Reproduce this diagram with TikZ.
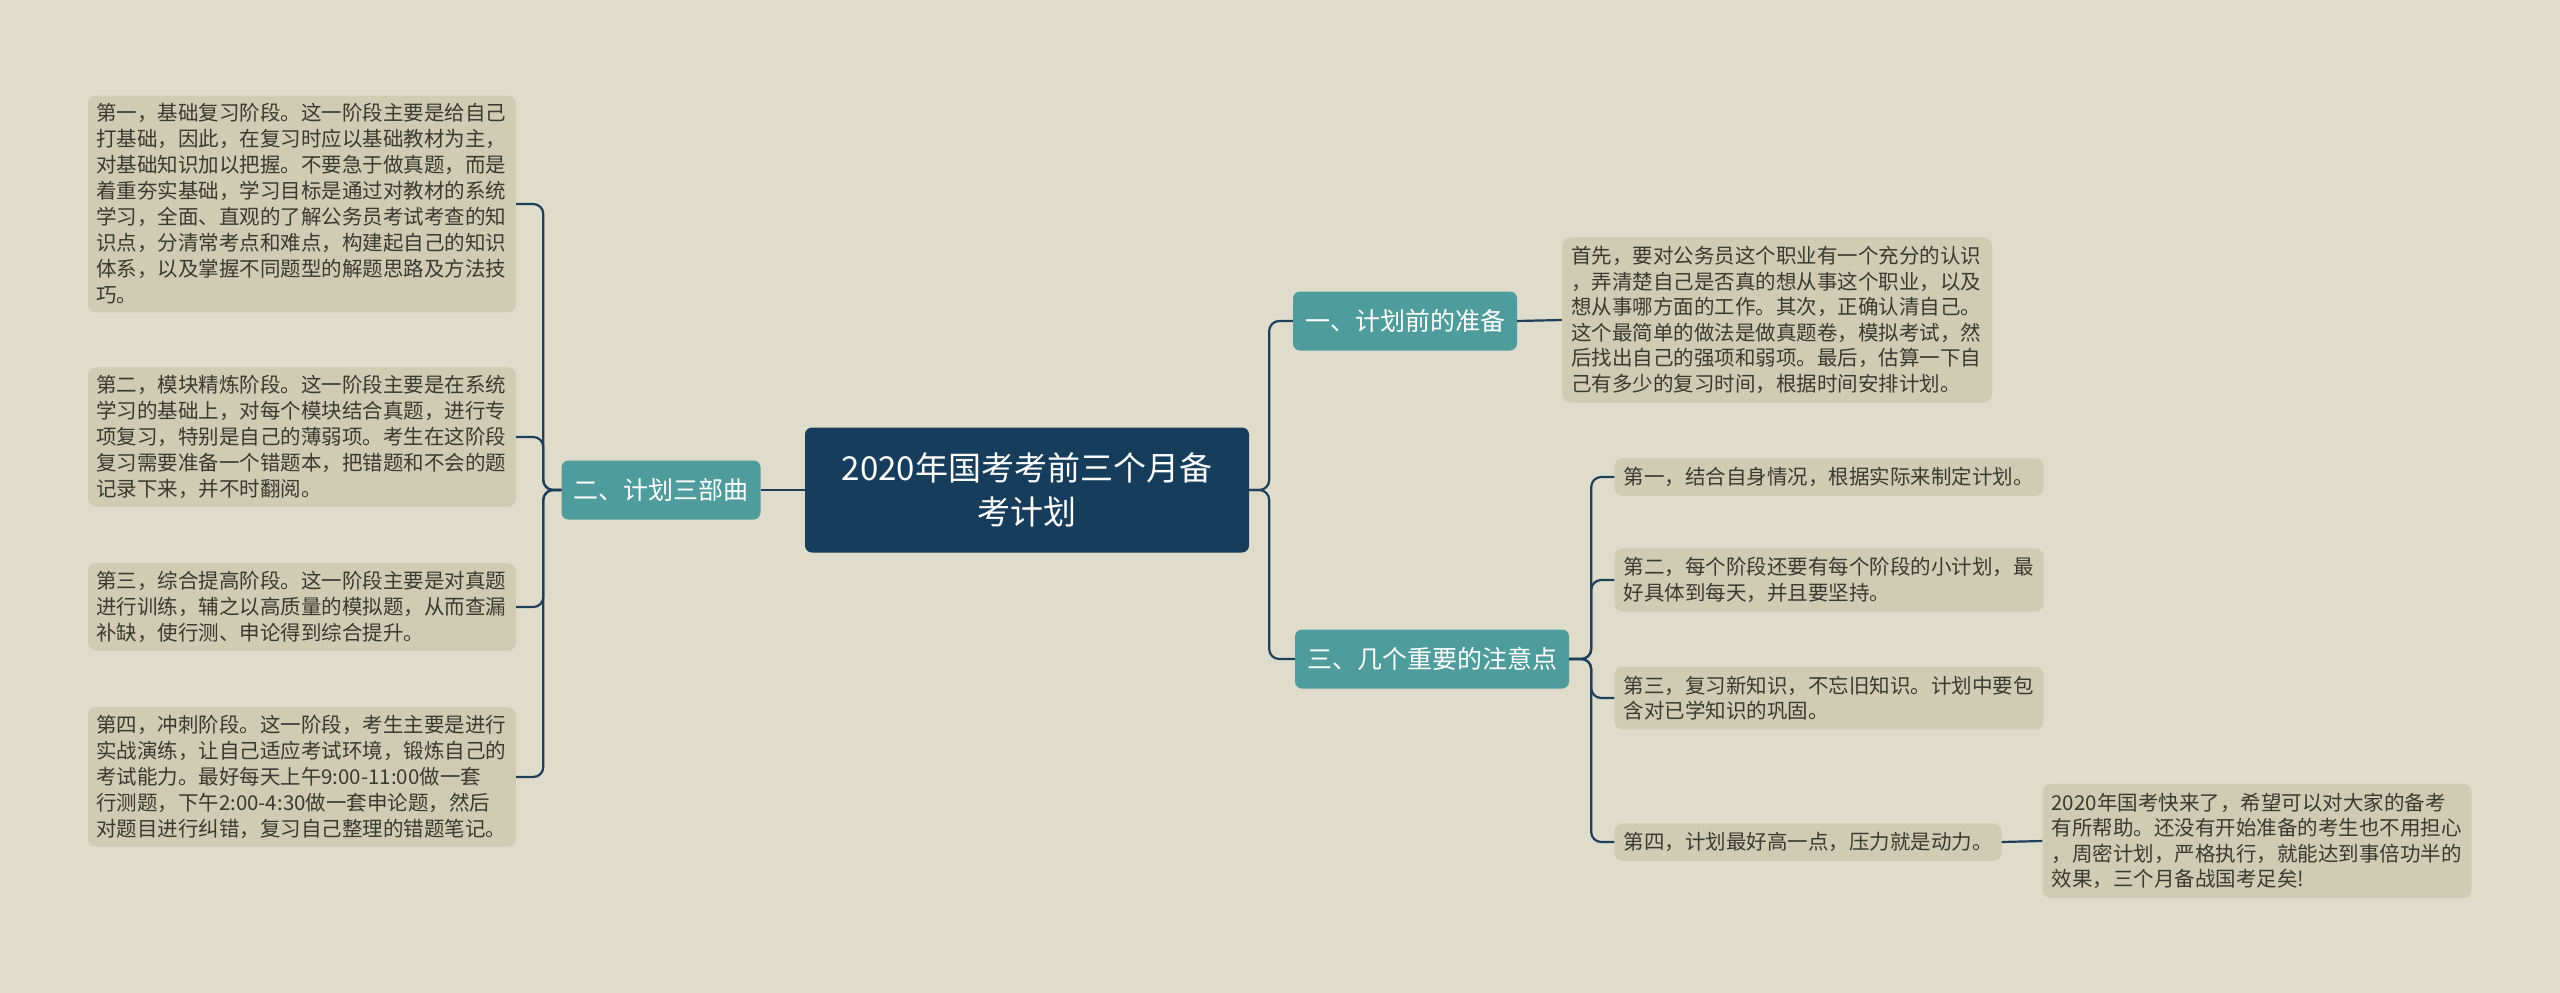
\documentclass[tikz,border=0pt]{standalone}
\usepackage{fontspec}
\setmainfont{Noto Sans CJK SC}
\definecolor{bg}{HTML}{DFDCCB}
\definecolor{leaf}{HTML}{CFCCB3}
\definecolor{txt}{HTML}{3A3A30}
\definecolor{navy}{HTML}{163D5C}
\definecolor{teal}{HTML}{4E9C9C}
\definecolor{conn}{HTML}{1E3F5A}
\tikzset{
  leafL/.style={fill=leaf,rounded corners=8pt,text=txt,align=left,text width=412pt,inner xsep=8pt,inner ysep=8pt,font=\fontsize{20.5pt}{26pt}\selectfont},
  leafR/.style={fill=leaf,rounded corners=8pt,text=txt,align=left,inner xsep=9pt,inner ysep=9pt,font=\fontsize{20.5pt}{25.5pt}\selectfont},
  branch/.style={fill=teal,rounded corners=7pt,text=white,font=\fontsize{25pt}{30pt}\selectfont,minimum height=59pt,inner xsep=12pt},
  link/.style={draw=conn,line width=2.2pt,rounded corners=10pt}
}
\begin{document}
\begin{tikzpicture}[x=1pt,y=-1pt]
\fill[bg] (0,0) rectangle (2560,993);
\useasboundingbox (0,0) rectangle (2560,993);
\node[fill=navy,rounded corners=7pt,text=white,align=center,minimum width=444pt,minimum height=125pt,font=\fontsize{33pt}{44pt}\selectfont] (c) at (1027,490) {2020年国考考前三个月备\\考计划};
\node[branch] (b1) at (1405,321) {一、计划前的准备};
\node[branch] (b3) at (1432,659) {三、几个重要的注意点};
\node[branch] (b2) at (661,490) {二、计划三部曲};
\node[leafL] (l1) at (302,204) {第一，基础复习阶段。这一阶段主要是给自己\\打基础，因此，在复习时应以基础教材为主，\\对基础知识加以把握。不要急于做真题，而是\\着重夯实基础，学习目标是通过对教材的系统\\学习，全面、直观的了解公务员考试考查的知\\识点，分清常考点和难点，构建起自己的知识\\体系，以及掌握不同题型的解题思路及方法技\\巧。};
\node[leafL] (l2) at (302,437) {第二，模块精炼阶段。这一阶段主要是在系统\\学习的基础上，对每个模块结合真题，进行专\\项复习，特别是自己的薄弱项。考生在这阶段\\复习需要准备一个错题本，把错题和不会的题\\记录下来，并不时翻阅。};
\node[leafL] (l3) at (302,607) {第三，综合提高阶段。这一阶段主要是对真题\\进行训练，辅之以高质量的模拟题，从而查漏\\补缺，使行测、申论得到综合提升。};
\node[leafL] (l4) at (302,777) {第四，冲刺阶段。这一阶段，考生主要是进行\\实战演练，让自己适应考试环境，锻炼自己的\\考试能力。最好每天上午9:00-11:00做一套\\行测题，下午2:00-4:30做一套申论题，然后\\对题目进行纠错，复习自己整理的错题笔记。};
\node[leafR,text width=412pt] (r0) at (1777,320) {首先，要对公务员这个职业有一个充分的认识\\，弄清楚自己是否真的想从事这个职业，以及\\想从事哪方面的工作。其次，正确认清自己。\\这个最简单的做法是做真题卷，模拟考试，然\\后找出自己的强项和弱项。最后，估算一下自\\己有多少的复习时间，根据时间安排计划。};
\node[leafR,text width=411pt] (s1) at (1829,477) {第一，结合自身情况，根据实际来制定计划。};
\node[leafR,text width=411pt] (s2) at (1829,580) {第二，每个阶段还要有每个阶段的小计划，最\\好具体到每天，并且要坚持。};
\node[leafR,text width=411pt] (s3) at (1829,698) {第三，复习新知识，不忘旧知识。计划中要包\\含对已学知识的巩固。};
\node[leafR,text width=369pt] (s4) at (1808,842) {第四，计划最好高一点，压力就是动力。};
\node[leafR,text width=411pt] (f) at (2257,841) {2020年国考快来了，希望可以对大家的备考\\有所帮助。还没有开始准备的考生也不用担心\\，周密计划，严格执行，就能达到事倍功半的\\效果，三个月备战国考足矣!};
\draw[link] (c.west) -- (b2.east);
\foreach \n in {l1,l2,l3,l4} \draw[link] (b2.west) -- ++(-18,0) |- (\n.east);
\foreach \n in {b1,b3} \draw[link] (c.east) -- ++(20,0) |- (\n.west);
\draw[link] (b1.east) -- (r0.west);
\foreach \n in {s1,s2,s3,s4} \draw[link] (b3.east) -- ++(22,0) |- (\n.west);
\draw[link] (s4.east) -- (f.west);
\end{tikzpicture}
\end{document}
